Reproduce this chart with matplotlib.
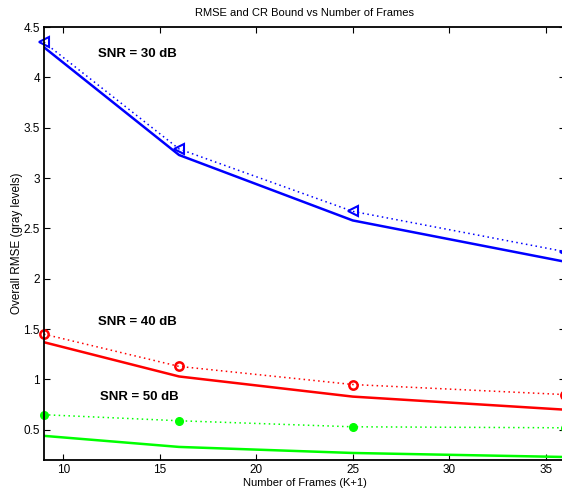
import matplotlib
matplotlib.use('Agg')
import matplotlib.pyplot as plt

plt.rcParams['font.family'] = ['Liberation Sans', 'DejaVu Sans']

# frames (K+1)
frames = [9, 16, 25, 36]

# CR bounds (solid)
cr_30 = [4.30, 3.23, 2.58, 2.17]
cr_40 = [1.37, 1.03, 0.83, 0.70]
cr_50 = [0.44, 0.33, 0.27, 0.23]

# measured RMSE (dotted + markers)
rmse_30 = [4.35, 3.29, 2.67, 2.27]
rmse_40 = [1.45, 1.13, 0.95, 0.85]
rmse_50 = [0.65, 0.59, 0.53, 0.52]

dots = (0, (1, 2.2))

fig = plt.figure(figsize=(5.62, 4.93), dpi=100)
ax = fig.add_axes([0.0783, 0.0669, 0.927, 0.878])

ax.plot(frames, cr_30, '-', color='b', lw=1.8)
ax.plot(frames, rmse_30, ls=dots, color='b', lw=1.1, marker='<', ms=7, mfc='none', mew=1.5, clip_on=False)
ax.plot(frames, cr_40, '-', color='r', lw=1.8)
ax.plot(frames, rmse_40, ls=dots, color='r', lw=1.1, marker='o', ms=6, mfc='none', mew=1.8, clip_on=False)
ax.plot(frames, cr_50, '-', color='#00ff00', lw=1.8)
ax.plot(frames, rmse_50, ls=dots, color='#00ff00', lw=1.1, marker='.', ms=11, clip_on=False)

ax.text(11.8, 4.23, 'SNR = 30 dB', fontsize=9.5, fontweight='bold', va='center')
ax.text(11.8, 1.57, 'SNR = 40 dB', fontsize=9.5, fontweight='bold', va='center')
ax.text(11.9, 0.83, 'SNR = 50 dB', fontsize=9.5, fontweight='bold', va='center')

ax.set_xlim(9, 36)
ax.set_ylim(0.2, 4.5)
ax.set_xticks([10, 15, 20, 25, 30, 35])
ax.set_yticks([0.5, 1, 1.5, 2, 2.5, 3, 3.5, 4, 4.5])
ax.set_yticklabels(['0.5', '1', '1.5', '2', '2.5', '3', '3.5', '4', '4.5'])
ax.tick_params(direction='in', top=True, right=True, labelsize=8.5, length=4, pad=3)
for s in ax.spines.values():
    s.set_linewidth(1.3)

ax.set_title('RMSE and CR Bound vs Number of Frames', fontsize=8, pad=8)
ax.set_xlabel('Number of Frames (K+1)', fontsize=8, labelpad=1)
ax.set_ylabel('Overall RMSE (gray levels)', fontsize=8.5, labelpad=0)

plt.savefig('out.png', dpi=100)
